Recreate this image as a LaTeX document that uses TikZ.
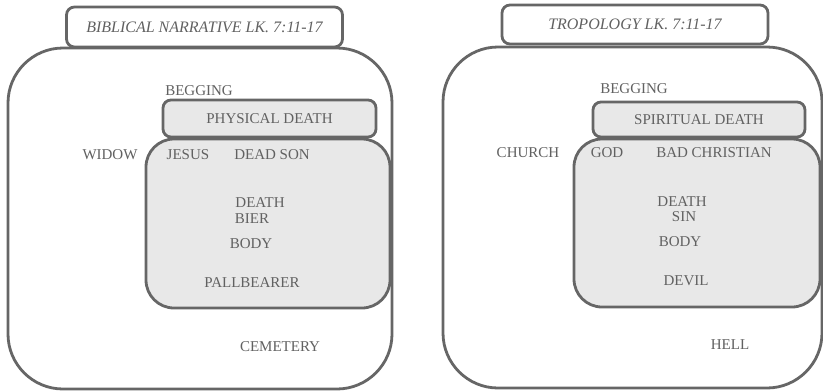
\documentclass[tikz,border=0pt]{standalone}
\usepackage{fontspec}
\setmainfont{Liberation Serif}
\begin{document}
\begin{tikzpicture}[x=1pt,y=-1pt,
  frame/.style={draw=black!60, line width=2.8pt, fill=white, inner sep=0pt},
  shade/.style={draw=black!60, line width=2.8pt, fill=black!9, inner sep=0pt},
  lbl/.style={text=black!62, font=\fontsize{15}{17}\selectfont, inner sep=0pt},
  ttl/.style={text=black!62, font=\itshape\fontsize{16}{18}\selectfont, inner sep=0pt}]
\useasboundingbox (0,0) rectangle (823,391);
% left panel
\node[frame, rounded corners=55pt, minimum width=384pt, minimum height=341pt] (lbig) at (200,218.5) {};
\node[frame, rounded corners=8pt, minimum width=276pt, minimum height=40pt] (ltitle) at (204.5,27) {};
\node[ttl] (lttext) at (ltitle.center) {BIBLICAL NARRATIVE LK. 7:11-17};
\node[shade, rounded corners=8pt, minimum width=213pt, minimum height=37pt] (lphys) at (269.5,118.5) {};
\node[shade, rounded corners=28pt, minimum width=244pt, minimum height=169pt] (linner) at (268,223.5) {};
\node[lbl] (lbeg) at (199,91) {BEGGING};
\node[lbl] (lphyst) at (lphys.center) {PHYSICAL DEATH};
\node[lbl] (lwidow) at (110,155) {WIDOW};
\node[lbl] (ljesus) at (188,155) {JESUS};
\node[lbl] (lson) at (272,155) {DEAD SON};
\node[lbl] (ldeath) at (260,203) {DEATH};
\node[lbl] (lbier) at (252,219) {BIER};
\node[lbl] (lbody) at (251,244) {BODY};
\node[lbl] (lpall) at (252,283) {PALLBEARER};
\node[lbl] (lcem) at (280,347) {CEMETERY};
% right panel
\node[frame, rounded corners=55pt, minimum width=379pt, minimum height=341pt] (rbig) at (632.5,217.5) {};
\node[frame, rounded corners=8pt, minimum width=266pt, minimum height=39pt] (rtitle) at (635,24.5) {};
\node[ttl] (rttext) at (rtitle.center) {TROPOLOGY LK. 7:11-17};
\node[shade, rounded corners=8pt, minimum width=212pt, minimum height=35pt] (rspir) at (699,119.5) {};
\node[shade, rounded corners=28pt, minimum width=246pt, minimum height=168pt] (rinner) at (697,223) {};
\node[lbl] (rbeg) at (634,89) {BEGGING};
\node[lbl] (rspirt) at (rspir.center) {SPIRITUAL DEATH};
\node[lbl] (rchurch) at (528,153) {CHURCH};
\node[lbl] (rgod) at (607,153) {GOD};
\node[lbl] (rbad) at (714,153) {BAD CHRISTIAN};
\node[lbl] (rdeath) at (682,202) {DEATH};
\node[lbl] (rsin) at (684,217) {SIN};
\node[lbl] (rbody) at (680,242) {BODY};
\node[lbl] (rdevil) at (686,281) {DEVIL};
\node[lbl] (rhell) at (730,345) {HELL};
\end{tikzpicture}
\end{document}
